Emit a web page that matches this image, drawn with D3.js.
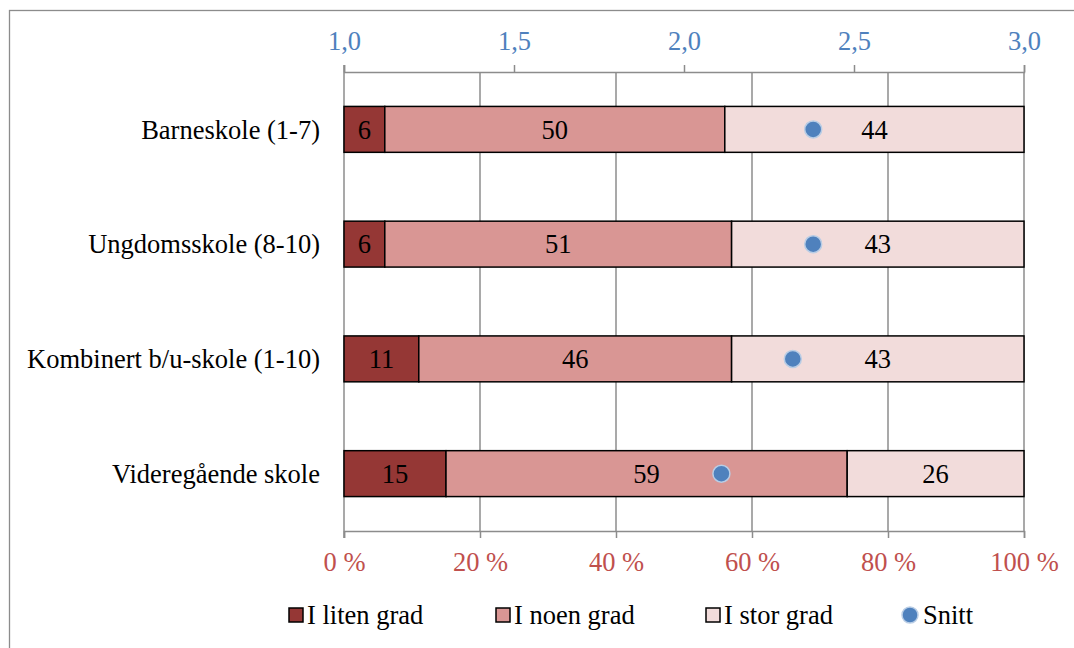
<!DOCTYPE html>
<html>
<head>
<meta charset="utf-8">
<script src="https://cdn.jsdelivr.net/npm/d3@7"></script>
<style>
  html, body { margin: 0; padding: 0; background: #fff; }
  svg { display: block; font-family: "Liberation Serif", "Times New Roman", serif; }
</style>
</head>
<body>
<svg id="chart" width="1074" height="648"></svg>
<script>
// School levels (top to bottom)
const categories = ["Barneskole (1-7)", "Ungdomsskole (8-10)", "Kombinert b/u-skole (1-10)", "Videregående skole"];
// Share of answers per degree, in percent
const litenGrad = [6, 6, 11, 15];
const noenGrad  = [50, 51, 46, 59];
const storGrad  = [44, 43, 43, 26];
// Mean score on the 1–3 scale
const snitt = [2.38, 2.38, 2.32, 2.11];

const seriesNames = ["I liten grad", "I noen grad", "I stor grad"];
const seriesColors = ["#953735", "#D99694", "#F2DCDB"];
const pctTicks = [0, 20, 40, 60, 80, 100];
const meanTicks = [1.0, 1.5, 2.0, 2.5, 3.0];

const svg = d3.select("#chart");
const plotLeft = 344, plotRight = 1024, plotTop = 72, plotBottom = 531;
const gridColor = "#8c8c8c";
const fontSize = 26.5;
const fontFamily = "Liberation Serif";

// Outer chart frame
svg.append("rect")
  .attr("x", 9.5).attr("y", 10.5).attr("width", 1100).attr("height", 700)
  .attr("fill", "none").attr("stroke", "#8c8c8c").attr("stroke-width", 1.3);

const x = d3.scaleLinear().domain([0, 100]).range([plotLeft, plotRight]);
const xMean = d3.scaleLinear().domain([1, 3]).range([plotLeft, plotRight]);
const y = d3.scaleBand().domain(categories).range([plotTop, plotBottom]).paddingInner(0.6).paddingOuter(0.3);

// Vertical gridlines
svg.append("g").selectAll("line").data(pctTicks.slice(1)).join("line")
  .attr("x1", d => x(d)).attr("x2", d => x(d))
  .attr("y1", plotTop).attr("y2", plotBottom)
  .attr("stroke", gridColor).attr("stroke-width", 1.5);

// Bottom percent axis
const fmtPct = d => d + " %";
const bottomAxis = svg.append("g").attr("transform", `translate(0,${plotBottom})`)
  .call(d3.axisBottom(x).tickValues(pctTicks).tickFormat(fmtPct).tickSize(7).tickPadding(14));
bottomAxis.attr("font-family", fontFamily).attr("font-size", fontSize);
bottomAxis.select(".domain").attr("stroke", gridColor).attr("stroke-width", 1.5);
bottomAxis.selectAll(".tick line").attr("stroke", gridColor).attr("stroke-width", 1.5);
bottomAxis.selectAll("text").attr("fill", "#C0504D");

// Top mean axis
const topAxis = svg.append("g").attr("transform", `translate(0,${plotTop})`)
  .call(d3.axisTop(xMean).tickValues(meanTicks).tickFormat(d => d3.format(".1f")(d).replace(".", ",")).tickSize(7).tickPadding(15));
topAxis.attr("font-family", fontFamily).attr("font-size", fontSize);
topAxis.select(".domain").attr("stroke", gridColor).attr("stroke-width", 1.5);
topAxis.selectAll(".tick line").attr("stroke", gridColor).attr("stroke-width", 1.5);
topAxis.selectAll("text").attr("fill", "#4F81BD");

// Left axis line
svg.append("line")
  .attr("x1", plotLeft).attr("x2", plotLeft).attr("y1", plotTop - 7).attr("y2", plotBottom + 7)
  .attr("stroke", gridColor).attr("stroke-width", 1.5);

// Category labels
svg.append("g").selectAll("text").data(categories).join("text")
  .attr("x", plotLeft - 24).attr("y", d => y(d) + y.bandwidth() / 2)
  .attr("dy", "0.35em").attr("text-anchor", "end")
  .attr("font-size", fontSize).attr("fill", "#000").text(d => d);

// Stacked bars
const rows = categories.map((c, i) => ({ cat: c, values: [litenGrad[i], noenGrad[i], storGrad[i]] }));
const segs = [];
rows.forEach(r => {
  let acc = 0;
  r.values.forEach((v, k) => { segs.push({ cat: r.cat, k, v, x0: acc, x1: acc + v }); acc += v; });
});

svg.append("g").selectAll("rect").data(segs).join("rect")
  .attr("x", d => x(d.x0)).attr("width", d => x(d.x1) - x(d.x0))
  .attr("y", d => y(d.cat)).attr("height", y.bandwidth())
  .attr("fill", d => seriesColors[d.k])
  .attr("stroke", "#000").attr("stroke-width", 1.5);

svg.append("g").selectAll("text").data(segs).join("text")
  .attr("x", d => (x(d.x0) + x(d.x1)) / 2)
  .attr("y", d => y(d.cat) + y.bandwidth() / 2)
  .attr("dy", "0.35em").attr("text-anchor", "middle")
  .attr("font-size", fontSize).attr("fill", "#000").text(d => d.v);

// Mean markers
svg.append("g").selectAll("circle").data(categories).join("circle")
  .attr("cx", (d, i) => xMean(snitt[i]))
  .attr("cy", d => y(d) + y.bandwidth() / 2)
  .attr("r", 8.5)
  .attr("fill", "#4F81BD").attr("stroke", "#B9CDE5").attr("stroke-width", 1.5);

// Legend
const legendY = 615;
const legendItems = [
  { name: seriesNames[0], type: "rect", color: seriesColors[0], x: 289 },
  { name: seriesNames[1], type: "rect", color: seriesColors[1], x: 496 },
  { name: seriesNames[2], type: "rect", color: seriesColors[2], x: 706 },
  { name: "Snitt", type: "circle", color: "#4F81BD", x: 902 }
];
const lg = svg.append("g").selectAll("g").data(legendItems).join("g")
  .attr("transform", d => `translate(${d.x},${legendY})`);
lg.filter(d => d.type === "rect").append("rect")
  .attr("x", 0).attr("y", -7).attr("width", 14).attr("height", 14)
  .attr("fill", d => d.color).attr("stroke", "#000").attr("stroke-width", 1.5);
lg.filter(d => d.type === "circle").append("circle")
  .attr("cx", 8).attr("cy", 0).attr("r", 8)
  .attr("fill", d => d.color).attr("stroke", "#B9CDE5").attr("stroke-width", 1.5);
lg.append("text")
  .attr("x", d => d.type === "rect" ? 18 : 21).attr("y", 0).attr("dy", "0.35em")
  .attr("font-size", fontSize).attr("fill", "#000").text(d => d.name);
</script>
</body>
</html>
